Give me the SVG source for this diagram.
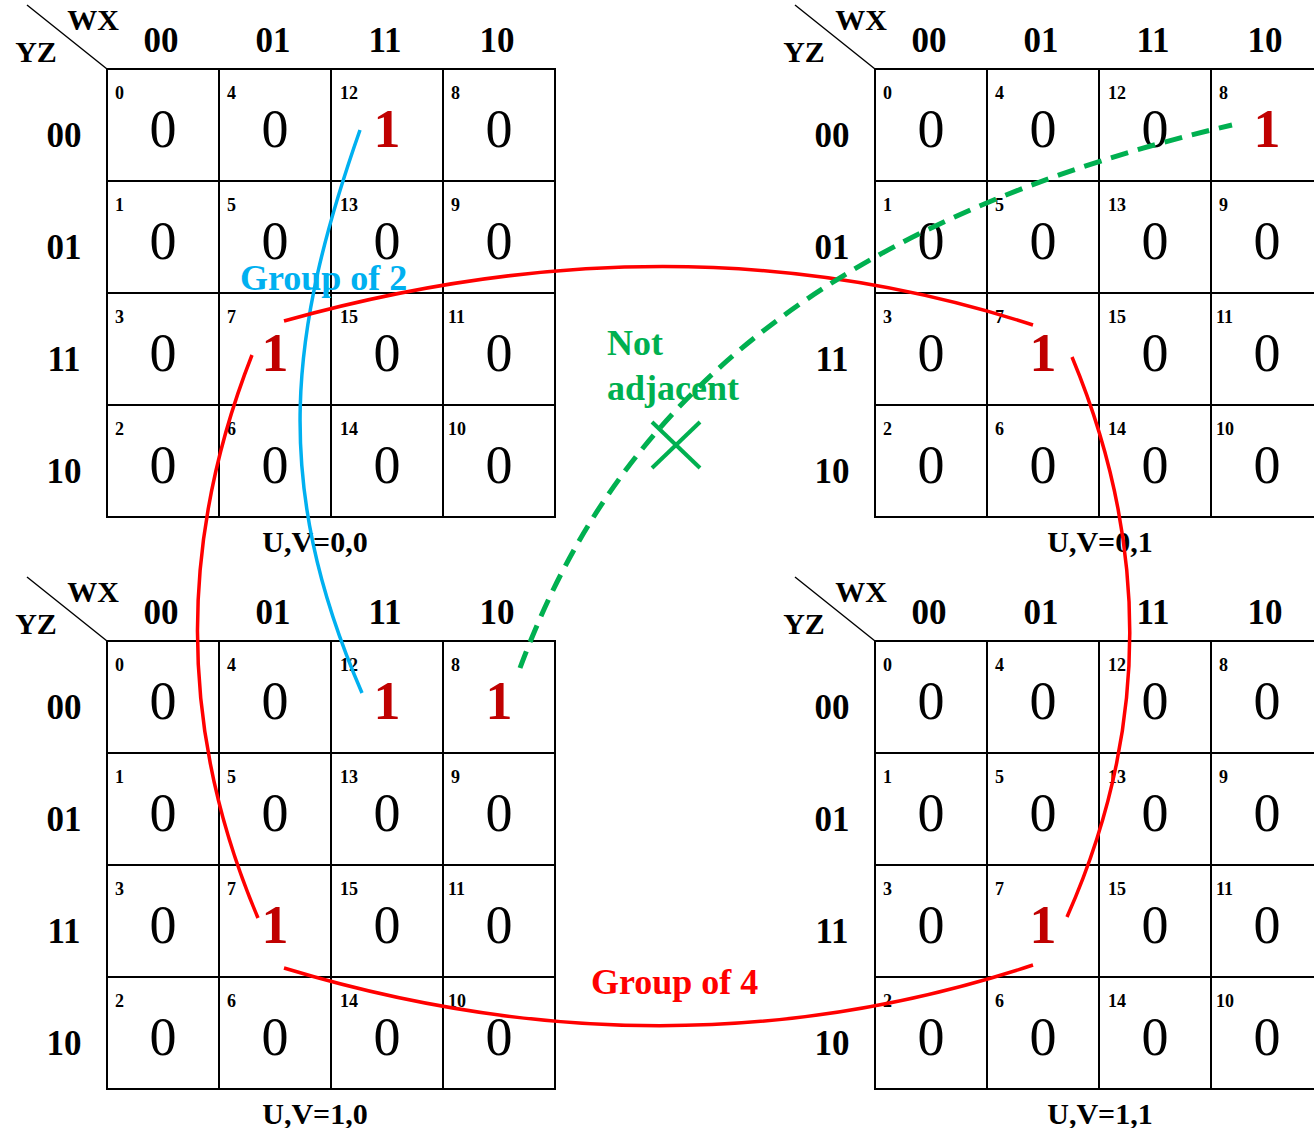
<svg xmlns="http://www.w3.org/2000/svg" width="1314" height="1128" viewBox="0 0 1314 1128">
<style>
  text { font-family: "Liberation Serif", "Times New Roman", serif; }
  .grid { fill: none; stroke: #000; stroke-width: 2; }
  .diag { stroke: #000; stroke-width: 1.5; }
  .var { font-size: 30px; font-weight: bold; text-anchor: middle; }
  .hdr { font-size: 35px; font-weight: bold; text-anchor: middle; }
  .idx { font-size: 18px; font-weight: bold; }
  .v0 { font-size: 54px; text-anchor: middle; fill: #000; }
  .v1 { font-size: 54px; font-weight: bold; text-anchor: middle; fill: #C00000; }
  .uv { font-size: 30px; font-weight: bold; text-anchor: middle; }
  .lbl { font-size: 36px; font-weight: bold; }
  .red { fill: none; stroke: #FF0000; stroke-width: 3.5; }
  .blue { fill: none; stroke: #00B0F0; stroke-width: 3.5; }
  .green { fill: none; stroke: #00B050; stroke-width: 5; stroke-dasharray: 18 10; }
  .cross { stroke: #00B050; stroke-width: 4; }
</style>
<rect width="1314" height="1128" fill="#fff"/>

<g id="map-uv00">
  <line class="diag" x1="27" y1="5" x2="107" y2="69"/>
  <text class="var" x="93" y="30">WX</text>
  <text class="var" x="36" y="62">YZ</text>
  <text class="hdr" x="161" y="52">00</text><text class="hdr" x="273" y="52">01</text><text class="hdr" x="385" y="52">11</text><text class="hdr" x="497" y="52">10</text>
  <text class="hdr" x="64" y="147">00</text><text class="hdr" x="64" y="259">01</text><text class="hdr" x="64" y="371">11</text><text class="hdr" x="64" y="483">10</text>
  <rect class="grid" x="107" y="69" width="448" height="448"/>
  <path class="grid" d="M219,69V517M331,69V517M443,69V517M107,181H555M107,293H555M107,405H555"/>
  <text class="idx" x="115" y="99">0</text><text class="v0" x="163" y="147">0</text>
  <text class="idx" x="227" y="99">4</text><text class="v0" x="275" y="147">0</text>
  <text class="idx" x="340" y="99">12</text><text class="v1" x="387" y="147">1</text>
  <text class="idx" x="451" y="99">8</text><text class="v0" x="499" y="147">0</text>
  <text class="idx" x="115" y="211">1</text><text class="v0" x="163" y="259">0</text>
  <text class="idx" x="227" y="211">5</text><text class="v0" x="275" y="259">0</text>
  <text class="idx" x="340" y="211">13</text><text class="v0" x="387" y="259">0</text>
  <text class="idx" x="451" y="211">9</text><text class="v0" x="499" y="259">0</text>
  <text class="idx" x="115" y="323">3</text><text class="v0" x="163" y="371">0</text>
  <text class="idx" x="227" y="323">7</text><text class="v1" x="275" y="371">1</text>
  <text class="idx" x="340" y="323">15</text><text class="v0" x="387" y="371">0</text>
  <text class="idx" x="448" y="323">11</text><text class="v0" x="499" y="371">0</text>
  <text class="idx" x="115" y="435">2</text><text class="v0" x="163" y="483">0</text>
  <text class="idx" x="227" y="435">6</text><text class="v0" x="275" y="483">0</text>
  <text class="idx" x="340" y="435">14</text><text class="v0" x="387" y="483">0</text>
  <text class="idx" x="448" y="435">10</text><text class="v0" x="499" y="483">0</text>
  <text class="uv" x="315" y="552">U,V=0,0</text>
</g>

<g id="map-uv01" transform="translate(768,0)">
  <line class="diag" x1="27" y1="5" x2="107" y2="69"/>
  <text class="var" x="93" y="30">WX</text>
  <text class="var" x="36" y="62">YZ</text>
  <text class="hdr" x="161" y="52">00</text><text class="hdr" x="273" y="52">01</text><text class="hdr" x="385" y="52">11</text><text class="hdr" x="497" y="52">10</text>
  <text class="hdr" x="64" y="147">00</text><text class="hdr" x="64" y="259">01</text><text class="hdr" x="64" y="371">11</text><text class="hdr" x="64" y="483">10</text>
  <rect class="grid" x="107" y="69" width="448" height="448"/>
  <path class="grid" d="M219,69V517M331,69V517M443,69V517M107,181H555M107,293H555M107,405H555"/>
  <text class="idx" x="115" y="99">0</text><text class="v0" x="163" y="147">0</text>
  <text class="idx" x="227" y="99">4</text><text class="v0" x="275" y="147">0</text>
  <text class="idx" x="340" y="99">12</text><text class="v0" x="387" y="147">0</text>
  <text class="idx" x="451" y="99">8</text><text class="v1" x="499" y="147">1</text>
  <text class="idx" x="115" y="211">1</text><text class="v0" x="163" y="259">0</text>
  <text class="idx" x="227" y="211">5</text><text class="v0" x="275" y="259">0</text>
  <text class="idx" x="340" y="211">13</text><text class="v0" x="387" y="259">0</text>
  <text class="idx" x="451" y="211">9</text><text class="v0" x="499" y="259">0</text>
  <text class="idx" x="115" y="323">3</text><text class="v0" x="163" y="371">0</text>
  <text class="idx" x="227" y="323">7</text><text class="v1" x="275" y="371">1</text>
  <text class="idx" x="340" y="323">15</text><text class="v0" x="387" y="371">0</text>
  <text class="idx" x="448" y="323">11</text><text class="v0" x="499" y="371">0</text>
  <text class="idx" x="115" y="435">2</text><text class="v0" x="163" y="483">0</text>
  <text class="idx" x="227" y="435">6</text><text class="v0" x="275" y="483">0</text>
  <text class="idx" x="340" y="435">14</text><text class="v0" x="387" y="483">0</text>
  <text class="idx" x="448" y="435">10</text><text class="v0" x="499" y="483">0</text>
  <text class="uv" x="332" y="552">U,V=0,1</text>
</g>

<g id="map-uv10" transform="translate(0,572)">
  <line class="diag" x1="27" y1="5" x2="107" y2="69"/>
  <text class="var" x="93" y="30">WX</text>
  <text class="var" x="36" y="62">YZ</text>
  <text class="hdr" x="161" y="52">00</text><text class="hdr" x="273" y="52">01</text><text class="hdr" x="385" y="52">11</text><text class="hdr" x="497" y="52">10</text>
  <text class="hdr" x="64" y="147">00</text><text class="hdr" x="64" y="259">01</text><text class="hdr" x="64" y="371">11</text><text class="hdr" x="64" y="483">10</text>
  <rect class="grid" x="107" y="69" width="448" height="448"/>
  <path class="grid" d="M219,69V517M331,69V517M443,69V517M107,181H555M107,293H555M107,405H555"/>
  <text class="idx" x="115" y="99">0</text><text class="v0" x="163" y="147">0</text>
  <text class="idx" x="227" y="99">4</text><text class="v0" x="275" y="147">0</text>
  <text class="idx" x="340" y="99">12</text><text class="v1" x="387" y="147">1</text>
  <text class="idx" x="451" y="99">8</text><text class="v1" x="499" y="147">1</text>
  <text class="idx" x="115" y="211">1</text><text class="v0" x="163" y="259">0</text>
  <text class="idx" x="227" y="211">5</text><text class="v0" x="275" y="259">0</text>
  <text class="idx" x="340" y="211">13</text><text class="v0" x="387" y="259">0</text>
  <text class="idx" x="451" y="211">9</text><text class="v0" x="499" y="259">0</text>
  <text class="idx" x="115" y="323">3</text><text class="v0" x="163" y="371">0</text>
  <text class="idx" x="227" y="323">7</text><text class="v1" x="275" y="371">1</text>
  <text class="idx" x="340" y="323">15</text><text class="v0" x="387" y="371">0</text>
  <text class="idx" x="448" y="323">11</text><text class="v0" x="499" y="371">0</text>
  <text class="idx" x="115" y="435">2</text><text class="v0" x="163" y="483">0</text>
  <text class="idx" x="227" y="435">6</text><text class="v0" x="275" y="483">0</text>
  <text class="idx" x="340" y="435">14</text><text class="v0" x="387" y="483">0</text>
  <text class="idx" x="448" y="435">10</text><text class="v0" x="499" y="483">0</text>
  <text class="uv" x="315" y="552">U,V=1,0</text>
</g>

<g id="map-uv11" transform="translate(768,572)">
  <line class="diag" x1="27" y1="5" x2="107" y2="69"/>
  <text class="var" x="93" y="30">WX</text>
  <text class="var" x="36" y="62">YZ</text>
  <text class="hdr" x="161" y="52">00</text><text class="hdr" x="273" y="52">01</text><text class="hdr" x="385" y="52">11</text><text class="hdr" x="497" y="52">10</text>
  <text class="hdr" x="64" y="147">00</text><text class="hdr" x="64" y="259">01</text><text class="hdr" x="64" y="371">11</text><text class="hdr" x="64" y="483">10</text>
  <rect class="grid" x="107" y="69" width="448" height="448"/>
  <path class="grid" d="M219,69V517M331,69V517M443,69V517M107,181H555M107,293H555M107,405H555"/>
  <text class="idx" x="115" y="99">0</text><text class="v0" x="163" y="147">0</text>
  <text class="idx" x="227" y="99">4</text><text class="v0" x="275" y="147">0</text>
  <text class="idx" x="340" y="99">12</text><text class="v0" x="387" y="147">0</text>
  <text class="idx" x="451" y="99">8</text><text class="v0" x="499" y="147">0</text>
  <text class="idx" x="115" y="211">1</text><text class="v0" x="163" y="259">0</text>
  <text class="idx" x="227" y="211">5</text><text class="v0" x="275" y="259">0</text>
  <text class="idx" x="340" y="211">13</text><text class="v0" x="387" y="259">0</text>
  <text class="idx" x="451" y="211">9</text><text class="v0" x="499" y="259">0</text>
  <text class="idx" x="115" y="323">3</text><text class="v0" x="163" y="371">0</text>
  <text class="idx" x="227" y="323">7</text><text class="v1" x="275" y="371">1</text>
  <text class="idx" x="340" y="323">15</text><text class="v0" x="387" y="371">0</text>
  <text class="idx" x="448" y="323">11</text><text class="v0" x="499" y="371">0</text>
  <text class="idx" x="115" y="435">2</text><text class="v0" x="163" y="483">0</text>
  <text class="idx" x="227" y="435">6</text><text class="v0" x="275" y="483">0</text>
  <text class="idx" x="340" y="435">14</text><text class="v0" x="387" y="483">0</text>
  <text class="idx" x="448" y="435">10</text><text class="v0" x="499" y="483">0</text>
  <text class="uv" x="332" y="552">U,V=1,1</text>
</g>

<g id="labels">
  <text class="lbl" x="240" y="290" fill="#00B0F0">Group of 2</text>
  <text class="lbl" x="591" y="994" fill="#FF0000">Group of 4</text>
  <text class="lbl" x="607" y="355" fill="#00B050">Not</text>
  <text class="lbl" x="607" y="400" fill="#00B050">adjacent</text>
</g>

<g id="connectors">
  <path class="blue" d="M360,130 C290,330 270,480 362,693"/>
  <path class="red" d="M284,321 Q680,210 1033,325"/>
  <path class="red" d="M252,355 Q140,640 258,918"/>
  <path class="red" d="M284,968 Q670,1085 1033,965"/>
  <path class="red" d="M1072,357 Q1190,640 1067,917"/>
  <path class="green" d="M520,668 C590,480 740,240 1232,125"/>
  <line class="cross" x1="652" y1="422" x2="700" y2="468"/>
  <line class="cross" x1="652" y1="468" x2="700" y2="422"/>
</g>
</svg>
